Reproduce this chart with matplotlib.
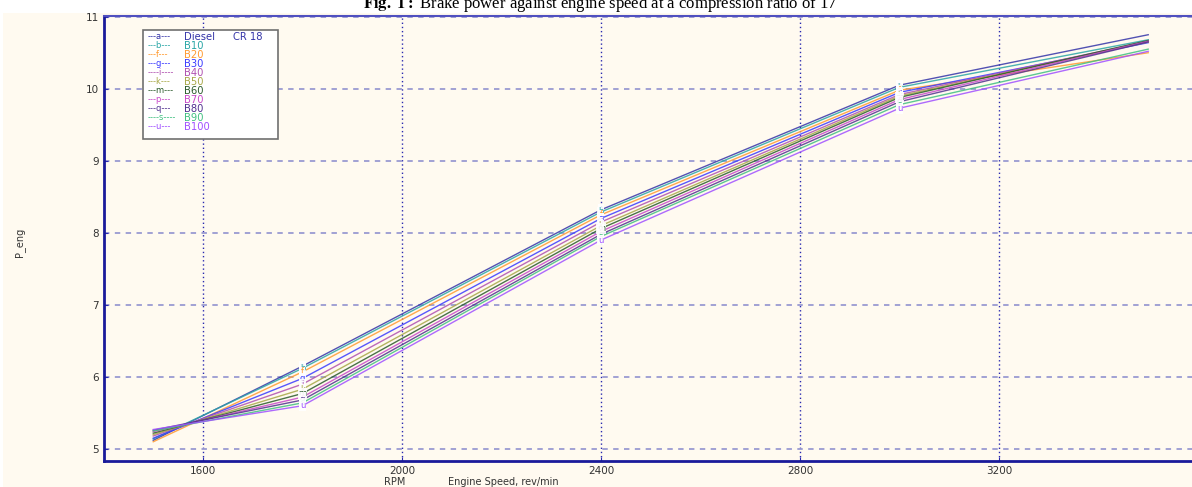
import matplotlib
matplotlib.use("Agg")
import matplotlib.pyplot as plt
from matplotlib.patches import Rectangle

# Engine speed (rev/min) at each test point
rpm = [1500, 1800, 2400, 3000, 3500]

# Brake power for each fuel blend
series_keys = ["a", "b", "f", "g", "i", "k", "m", "p", "q", "s", "u"]
series_names = ["Diesel", "B10", "B20", "B30", "B40", "B50", "B60", "B70", "B80", "B90", "B100"]
p_diesel = [5.12, 6.15, 8.32, 10.05, 10.75]
p_b10 = [5.14, 6.12, 8.29, 10.02, 10.68]
p_b20 = [5.10, 6.07, 8.25, 9.98, 10.50]
p_b30 = [5.15, 5.98, 8.20, 9.95, 10.64]
p_b40 = [5.18, 5.90, 8.15, 9.92, 10.66]
p_b50 = [5.20, 5.83, 8.10, 9.90, 10.65]
p_b60 = [5.22, 5.77, 8.06, 9.88, 10.67]
p_b70 = [5.24, 5.72, 8.02, 9.85, 10.66]
p_b80 = [5.26, 5.68, 7.98, 9.82, 10.65]
p_b90 = [5.25, 5.64, 7.95, 9.78, 10.55]
p_b100 = [5.27, 5.60, 7.90, 9.73, 10.52]
series_values = [p_diesel, p_b10, p_b20, p_b30, p_b40, p_b50, p_b60,
                 p_b70, p_b80, p_b90, p_b100]
series_colors = ["#3434a8", "#2aa6a6", "#ff9a30", "#3a3aff", "#b050b0",
                 "#a8a848", "#2a5a2a", "#c848c8", "#50308f", "#40c080", "#a050ff"]
legend_prefix = ["---a---", "---b---", "---f---", "---g---", "----i----",
                 "---k---", "---m---", "---p---", "---q---", "----s----", "---u---"]

x_ticks = [1600, 2000, 2400, 2800, 3200]
y_ticks = [5, 6, 7, 8, 9, 10, 11]

W, H = 1192, 487
fig = plt.figure(figsize=(W / 100, H / 100), dpi=100, facecolor="white")

# cream panel behind the chart
fig.patches.append(Rectangle((3 / W, 0), 1, 1 - 13 / H, transform=fig.transFigure,
                             facecolor="#fffaf0", edgecolor="none", zorder=-10))

ax = fig.add_axes([104 / W, 1 - 461 / H, 1 - 104 / W + 0.01, (461 - 16) / H])
ax.set_zorder(1)
ax.set_facecolor("#fffaf0")
ax.set_xlim(1401, 3612)
ax.set_ylim(4.833, 11.01)

for x in x_ticks:
    ax.axvline(x, color="#2a2ab0", lw=1.0, ls=(0, (1, 2)), zorder=1)
for y in y_ticks:
    ax.axhline(y, color="#9a9ad2", lw=1.3, ls=(0, (3, 3)), zorder=1)

for key, vals, col in zip(series_keys, series_values, series_colors):
    ax.plot(rpm, vals, color=col, lw=1.0, alpha=0.85, zorder=2)
    for xi, yi in zip(rpm[1:4], vals[1:4]):
        ax.text(xi, yi, key, color=col, fontsize=6, ha="center", va="center",
                family="DejaVu Sans", zorder=3,
                bbox=dict(boxstyle="square,pad=0.1", fc="white", ec="none", alpha=0.9))

ax.set_xticks(x_ticks)
ax.set_yticks(y_ticks)
ax.tick_params(axis="both", labelsize=7.5, labelcolor="#333333", length=3,
               direction="in", color="#2a2ab0")
ax.spines["right"].set_visible(False)
for s in ("left", "bottom"):
    ax.spines[s].set_color("#1a1a9a")
    ax.spines[s].set_linewidth(2.0)
ax.spines["top"].set_color("#5050c0")
ax.spines["top"].set_linewidth(1.5)

# legend box
lx0, ly0, lx1, ly1 = 143, 30, 278, 139
fig.patches.append(Rectangle((lx0 / W, 1 - ly1 / H), (lx1 - lx0) / W, (ly1 - ly0) / H,
                             transform=fig.transFigure, facecolor="white",
                             edgecolor="#707070", lw=1.2, zorder=5))
for i, (pre, name, col) in enumerate(zip(legend_prefix, series_names, series_colors)):
    yy = 1 - (36.5 + i * 9.05) / H
    fig.text(148 / W, yy, pre, color=col, fontsize=6, va="center", ha="left", zorder=6)
    fig.text(184 / W, yy, name, color=col, fontsize=7.2, va="center", ha="left", zorder=6)
fig.text(233 / W, 1 - 36.5 / H, "CR 18", color=series_colors[0], fontsize=7.2,
         va="center", ha="left", zorder=6)

fig.text(20 / W, 1 - 242 / H, "P_eng", rotation=90, fontsize=7, color="#333333",
         ha="center", va="center")
fig.text(395 / W, 1 - 482 / H, "RPM", fontsize=7, color="#333333", ha="center", va="center")
fig.text(448 / W, 1 - 482 / H, "Engine Speed, rev/min", fontsize=7, color="#333333",
         ha="left", va="center")

# caption along the top edge
fig.text(600 / W, 1 - 8 / H,
         r"$\mathbf{Fig.\ 1:}$ Brake power against engine speed at a compression ratio of 17",
         fontsize=12, family="Liberation Serif", ha="center", va="baseline",
         math_fontfamily="stix")

fig.savefig("out.png", dpi=100, facecolor=fig.get_facecolor())
